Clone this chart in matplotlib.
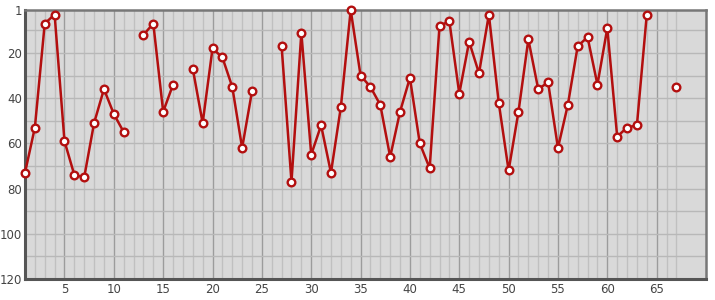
import numpy as np
import matplotlib.pyplot as plt

# Data (None = no value)
positions = list(range(1, 68))
ranks = [73, 53, 7, 3, 59, 74, 75, 51, 36, 47,
         55, None, 12, 7, 46, 34, None, 27, 51, 18,
         22, 35, 62, 37, None, None, 17, 77, 11, 65,
         52, 73, 44, 1, 30, 35, 43, 66, 46, 31,
         60, 71, 8, 6, 38, 15, 29, 3, 42, 72,
         46, 14, 36, 33, 62, 43, 17, 13, 34, 9,
         57, 53, 52, 3, None, None, 35]
y_ticks = [1, 20, 40, 60, 80, 100, 120]
x_ticks = [5, 10, 15, 20, 25, 30, 35, 40, 45, 50, 55, 60, 65]

x = np.array(positions)
y = np.array([np.nan if v is None else v for v in ranks], dtype=float)

fig = plt.figure(figsize=(7.15, 3.0), dpi=100)
ax = fig.add_axes([25 / 715, 21 / 300, 681 / 715, 269 / 300])
ax.set_facecolor("#d9d9d9")

ax.set_xlim(1, 70)
ax.set_ylim(120, 1)

# grid: a line at each position / every 10 ranks, darker every 5 positions
for xi in positions:
    c = "#9c9c9c" if xi % 5 == 0 else "#c0c0c0"
    ax.axvline(xi, color=c, lw=1, zorder=1)
for yi in range(10, 120, 10):
    ax.axhline(yi, color="#b8b8b8", lw=1, zorder=1)

ax.plot(x, y, color="#b30f0f", lw=1.8, zorder=3, clip_on=False,
        marker="o", markersize=5.5, markerfacecolor="white",
        markeredgecolor="#b30f0f", markeredgewidth=1.7)

ax.set_xticks(x_ticks)
ax.set_yticks(y_ticks)
ax.tick_params(length=0, labelsize=8.5, colors="#444444", pad=3)
ax.tick_params(axis="y", pad=2)

for side in ["left", "bottom"]:
    ax.spines[side].set_color("#555555")
    ax.spines[side].set_linewidth(2.2)
for side in ["top", "right"]:
    ax.spines[side].set_color("#777777")
    ax.spines[side].set_linewidth(1.8)

fig.savefig("out.png", dpi=100)
